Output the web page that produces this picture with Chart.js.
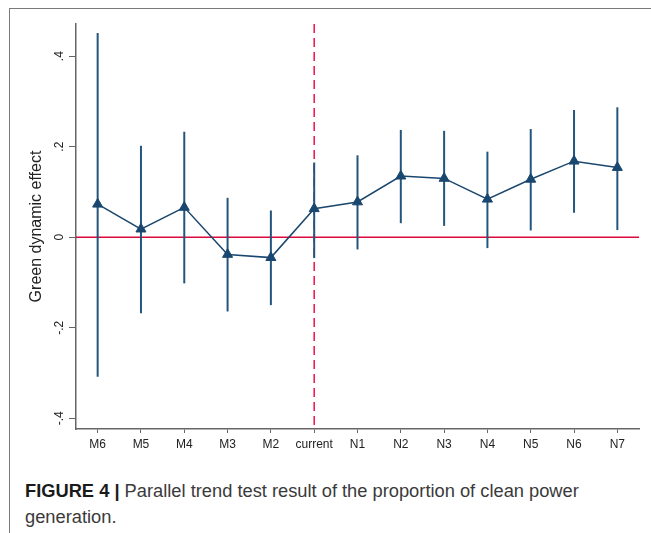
<!DOCTYPE html>
<html>
<head>
<meta charset="utf-8">
<script src="https://cdn.jsdelivr.net/npm/chart.js@4.4.1/dist/chart.umd.min.js"></script>
<style>
  html, body { margin: 0; padding: 0; background: #fff; }
  body { width: 651px; height: 533px; position: relative; overflow: hidden; font-family: "Liberation Sans", Arial, sans-serif; }
  #frame { position: absolute; left: 9px; top: 8px; right: 0; bottom: 0; border-top: 1px solid #7a7a7a; border-left: 1px solid #7a7a7a; }
  #chart { position: absolute; left: 0; top: 0; }
  #caption { position: absolute; left: 25px; top: 478px; width: 600px; font-size: 18.3px; line-height: 26px; color: #3a3a3a; }
  #caption b { color: #1a1a1a; }
</style>
</head>
<body>
<div id="frame"></div>
<canvas id="chart" width="651" height="460"></canvas>
<div id="caption"><b>FIGURE 4 |</b> Parallel trend test result of the proportion of clean power generation.</div>
<script>
const categories = ['M6', 'M5', 'M4', 'M3', 'M2', 'current', 'N1', 'N2', 'N3', 'N4', 'N5', 'N6', 'N7'];
const effect = [0.073, 0.018, 0.066, -0.038, -0.045, 0.063, 0.078, 0.135, 0.130, 0.084, 0.128, 0.168, 0.154];
const ciHigh = [0.451, 0.202, 0.233, 0.087, 0.059, 0.165, 0.181, 0.237, 0.235, 0.189, 0.239, 0.281, 0.287];
const ciLow = [-0.308, -0.168, -0.102, -0.164, -0.150, -0.046, -0.027, 0.031, 0.025, -0.024, 0.015, 0.054, 0.016];
const yTicks = [-0.4, -0.2, 0, 0.2, 0.4];
const yTickLabels = ['-.4', '-.2', '0', '.2', '.4'];
const yTitle = 'Green dynamic effect';
const eventIndex = 5; // "current"

const navy = '#1a476f';
const axisGray = '#666666';

// reference lines and confidence intervals, under the line
const bars = {
  id: 'bars',
  beforeDatasetsDraw(chart) {
    const ctx = chart.ctx;
    const area = chart.chartArea;
    const x = chart.scales.x;
    const y = chart.scales.y;
    ctx.save();

    // zero line
    ctx.strokeStyle = '#dc0a3c';
    ctx.lineWidth = 1.5;
    ctx.beginPath();
    ctx.moveTo(area.left, y.getPixelForValue(0));
    ctx.lineTo(area.right, y.getPixelForValue(0));
    ctx.stroke();

    // dashed line at treatment time
    const xe = x.getPixelForValue(eventIndex);
    ctx.strokeStyle = '#f0104a';
    ctx.setLineDash([9, 5]);
    ctx.beginPath();
    ctx.moveTo(xe, area.top);
    ctx.lineTo(xe, area.bottom);
    ctx.stroke();
    ctx.setLineDash([]);

    // CI spikes
    ctx.strokeStyle = '#24557d';
    ctx.lineWidth = 2;
    for (let i = 0; i < categories.length; i++) {
      const px = x.getPixelForValue(i);
      ctx.beginPath();
      ctx.moveTo(px, y.getPixelForValue(ciLow[i]));
      ctx.lineTo(px, y.getPixelForValue(ciHigh[i]));
      ctx.stroke();
    }
    ctx.restore();
  },
  afterDraw(chart) {
    const ctx = chart.ctx;
    const y = chart.scales.y;
    ctx.save();
    ctx.fillStyle = '#222';
    ctx.textAlign = 'center';
    ctx.textBaseline = 'alphabetic';
    ctx.font = '12px "Liberation Sans", Arial, sans-serif';
    for (let i = 0; i < yTicks.length; i++) {
      ctx.save();
      ctx.translate(63, y.getPixelForValue(yTicks[i]));
      ctx.rotate(-Math.PI / 2);
      ctx.fillText(yTickLabels[i], 0, 0);
      ctx.restore();
    }
    ctx.font = '16px "Liberation Sans", Arial, sans-serif';
    ctx.translate(41, (chart.chartArea.top + chart.chartArea.bottom) / 2);
    ctx.rotate(-Math.PI / 2);
    ctx.fillText(yTitle, 0, 0);
    ctx.restore();
  }
};

new Chart(document.getElementById('chart'), {
  type: 'line',
  data: {
    labels: categories,
    datasets: [{
      data: effect,
      borderColor: navy,
      borderWidth: 1.5,
      pointStyle: 'triangle',
      pointRadius: 5.8,
      pointBackgroundColor: navy,
      pointBorderColor: navy,
      pointBorderWidth: 1,
      tension: 0
    }]
  },
  options: {
    responsive: false,
    animation: false,
    devicePixelRatio: 1,
    layout: { padding: { left: 0, right: 12, top: 24, bottom: 0 } },
    plugins: { legend: { display: false }, tooltip: { enabled: false } },
    scales: {
      x: {
        type: 'category',
        offset: true,
        grid: { drawOnChartArea: false, offset: false, tickLength: 4, color: axisGray },
        border: { color: axisGray, width: 1.5 },
        ticks: { autoSkip: false, maxRotation: 0, padding: 4, color: '#222', font: { size: 12, family: '"Liberation Sans", Arial, sans-serif' } },
        afterFit(s) { s.height = 31; }
      },
      y: {
        type: 'linear',
        min: -0.4236,
        max: 0.471,
        afterBuildTicks(s) { s.ticks = yTicks.map(v => ({ value: v })); },
        grid: { drawOnChartArea: false, tickLength: 7, color: axisGray },
        border: { color: axisGray, width: 1.5 },
        ticks: { color: 'rgba(0,0,0,0)' },
        afterFit(s) { s.width = 76; }
      }
    }
  },
  plugins: [bars]
});
</script>
</body>
</html>
